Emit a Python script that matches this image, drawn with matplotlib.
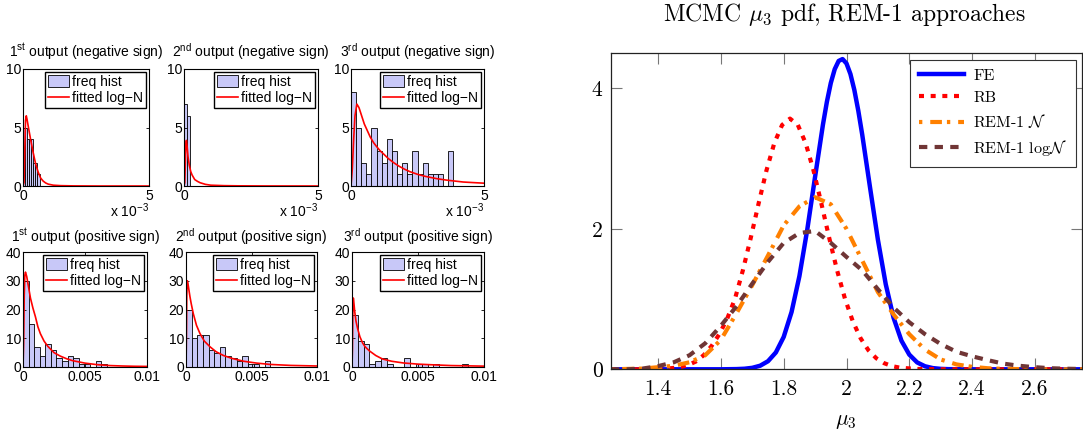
import numpy as np
import matplotlib.pyplot as plt
from matplotlib.font_manager import FontProperties

plt.rcParams['font.family'] = 'Liberation Sans'
plt.rcParams['mathtext.fontset'] = 'custom'
plt.rcParams['mathtext.rm'] = 'Liberation Sans'
plt.rcParams['mathtext.it'] = 'Liberation Sans:italic'
plt.rcParams['mathtext.bf'] = 'Liberation Sans:bold'

W, H = 1083, 434

# ---------------- histogram data (x in units of 1e-3) ----------------
neg1_width = 0.082
neg1_counts = [5, 5, 4, 4, 4, 2, 2, 1]
neg1_fit_x = [0, 0.04, 0.07, 0.10, 0.13, 0.16, 0.20, 0.25, 0.30, 0.40, 0.50, 0.60,
              0.70, 0.80, 0.90, 1.0, 1.2, 1.5, 2.0, 3.0, 5.0]
neg1_fit_y = [0, 0.3, 3.0, 5.6, 6.0, 5.7, 5.2, 4.6, 4.0, 2.9, 1.9, 1.2,
              0.68, 0.42, 0.26, 0.16, 0.07, 0.03, 0.01, 0.0, 0.0]

neg2_width = 0.11
neg2_counts = [7, 6]
neg2_fit_x = [0, 0.03, 0.05, 0.07, 0.09, 0.12, 0.15, 0.20, 0.25, 0.30, 0.40, 0.50,
              0.60, 0.80, 1.0, 1.5, 2.0, 3.0, 5.0]
neg2_fit_y = [0, 0.3, 2.0, 3.6, 3.9, 3.3, 2.5, 1.75, 1.25, 0.95, 0.55, 0.4,
              0.28, 0.14, 0.07, 0.03, 0.015, 0.005, 0.0]

neg3_width = 0.1925
neg3_counts = [8, 5, 2, 1, 5, 3, 2, 4, 3, 1, 2, 1, 3, 1, 2, 1, 1, 1, 0, 3]
neg3_fit_x = [0, 0.05, 0.10, 0.15, 0.22, 0.30, 0.40, 0.50, 0.60, 0.72, 0.85, 0.97,
              1.1, 1.22, 1.4, 1.6, 1.8, 2.0, 2.22, 2.5, 2.8, 3.22, 3.6, 4.22, 4.6, 5.0]
neg3_fit_y = [0, 1.5, 4.0, 6.0, 7.0, 6.7, 6.0, 5.3, 4.8, 4.2, 3.7, 3.35,
              3.0, 2.75, 2.35, 2.0, 1.7, 1.45, 1.22, 1.0, 0.82, 0.63, 0.5, 0.34, 0.29, 0.24]

pos1_width = 0.45
pos1_counts = [30, 15, 7, 4, 8, 6, 3, 2, 4, 3, 1, 1, 0, 2, 1]
pos1_fit_x = [0, 0.05, 0.10, 0.15, 0.20, 0.30, 0.40, 0.50, 0.60, 0.80, 1.0, 1.2, 1.4,
              1.7, 2.0, 2.5, 3.0, 3.5, 4.0, 5.0, 6.0, 7.0, 8.0, 9.0, 10.0]
pos1_fit_y = [0, 8, 25, 32, 33, 31.5, 29, 26.5, 24, 20.5, 17.5, 14, 11.6,
              9, 7.2, 5, 3.8, 2.9, 2.2, 1.35, 0.8, 0.5, 0.35, 0.25, 0.2]

pos2_width = 0.43
pos2_counts = [20, 10, 11, 11, 6, 5, 7, 4, 3, 2, 4, 1, 1, 0, 2]
pos2_fit_x = [0, 0.03, 0.06, 0.10, 0.15, 0.20, 0.30, 0.40, 0.56, 0.80, 1.07, 1.4,
              1.84, 2.3, 2.86, 3.5, 4.4, 5.4, 6.4, 8.0, 10.0]
pos2_fit_y = [0, 10, 25, 30, 29, 27.5, 24.5, 22, 18.5, 14.5, 11.6, 9,
              7, 5.3, 4, 3, 2, 1.35, 0.9, 0.55, 0.35]

pos3_width = 0.44
pos3_counts = [18, 9, 8, 1, 2, 3, 1, 0, 0, 3, 0, 1, 1, 0, 1, 0, 0, 0, 0, 1]
pos3_fit_x = [0, 0.03, 0.06, 0.10, 0.15, 0.20, 0.30, 0.43, 0.6, 0.81, 1.0, 1.32,
              1.8, 2.3, 3.0, 3.9, 5.0, 5.9, 7.5, 10.0]
pos3_fit_y = [0, 6, 18, 24, 22, 19.5, 16, 13.3, 10.5, 8.3, 7, 5.6,
              4, 2.8, 2, 1.4, 1.0, 0.8, 0.5, 0.3]

# ---------------- MCMC mu_3 densities ----------------
fe_x = [1.25, 1.60, 1.65, 1.675, 1.70, 1.725, 1.75, 1.775, 1.80, 1.825, 1.85, 1.875,
        1.90, 1.925, 1.9375, 1.95, 1.9625, 1.975, 1.9875, 2.00, 2.0125, 2.025, 2.0375,
        2.05, 2.075, 2.10, 2.125, 2.15, 2.175, 2.20, 2.225, 2.25, 2.275, 2.30, 2.325,
        2.40, 2.75]
fe_y = [0, 0, 0.003, 0.008, 0.021, 0.051, 0.115, 0.240, 0.461, 0.815, 1.326, 1.988,
        2.743, 3.485, 3.808, 4.077, 4.274, 4.391, 4.418, 4.355, 4.205, 3.977, 3.684,
        3.344, 2.588, 1.845, 1.211, 0.732, 0.407, 0.209, 0.098, 0.043, 0.017, 0.006, 0.002,
        0, 0]

rb_x = [1.25, 1.40, 1.42, 1.47, 1.495, 1.52, 1.545, 1.57, 1.595, 1.62, 1.645, 1.67,
        1.695, 1.72, 1.745, 1.77, 1.795, 1.82, 1.845, 1.87, 1.895, 1.92, 1.945, 1.97,
        1.995, 2.02, 2.045, 2.07, 2.095, 2.12, 2.145, 2.17, 2.22, 2.30, 2.75]
rb_y = [0, 0, 0.005, 0.03, 0.06, 0.11, 0.2, 0.33, 0.5, 0.72, 1.007, 1.41,
        1.87, 2.36, 2.83, 3.22, 3.48, 3.57, 3.48, 3.22, 2.83, 2.36, 1.87, 1.41,
        1.007, 0.684, 0.441, 0.27, 0.157, 0.087, 0.045, 0.023, 0.005, 0, 0]

remn_x = [1.25, 1.35, 1.40, 1.45, 1.50, 1.55, 1.60, 1.65, 1.70, 1.75, 1.80, 1.85,
          1.90, 1.95, 2.00, 2.05, 2.10, 2.15, 2.20, 2.25, 2.30, 2.35, 2.40, 2.45,
          2.50, 2.60, 2.75]
remn_y = [0, 0.01, 0.03, 0.05, 0.1, 0.2, 0.42, 0.8, 1.2, 1.62, 2.05, 2.32,
          2.45, 2.35, 2.0, 1.55, 1.1, 0.78, 0.5, 0.28, 0.14, 0.07, 0.035, 0.015,
          0.006, 0, 0]

remlog_x = [1.25, 1.30, 1.35, 1.40, 1.45, 1.50, 1.55, 1.60, 1.65, 1.70, 1.75, 1.80,
            1.85, 1.90, 1.95, 2.00, 2.05, 2.10, 2.15, 2.20, 2.25, 2.30, 2.35, 2.40,
            2.45, 2.50, 2.55, 2.60, 2.65, 2.70, 2.75]
remlog_y = [0, 0.0, 0.01, 0.045, 0.1, 0.2, 0.37, 0.62, 0.9, 1.22, 1.53, 1.8,
            1.94, 1.97, 1.8, 1.6, 1.41, 1.14, 0.88, 0.67, 0.5, 0.36, 0.25, 0.185,
            0.13, 0.08, 0.05, 0.03, 0.015, 0.008, 0.004]

fig = plt.figure(figsize=(W / 100, H / 100), dpi=100)


def add_ax(l, t, r, b):
    return fig.add_axes([l / W, 1 - b / H, (r - l) / W, (b - t) / H])


def small_panel(box, width, counts, fit_x, fit_y, title, scale, xlim, ylim,
                xticks, xlabels, yticks, title_pad):
    ax = add_ax(*box)
    edges = np.arange(len(counts)) * width * scale
    bars = ax.bar(edges, counts, width=width * scale, align='edge', color='#c8c8f8',
                  edgecolor='black', linewidth=0.6)
    line, = ax.plot(np.array(fit_x) * scale, fit_y, color='red', lw=1.2)
    ax.set_xlim(*xlim)
    ax.set_ylim(*ylim)
    ax.set_xticks(xticks, labels=xlabels)
    ax.set_yticks(yticks)
    ax.tick_params(direction='in', length=2.5, width=0.6, labelsize=10,
                   top=True, right=True, pad=2)
    ax.tick_params(axis='y', pad=1.5)
    for s in ax.spines.values():
        s.set_linewidth(0.8)
    ax.set_title(title, fontsize=10, pad=title_pad)
    leg = ax.legend([bars, line], ['freq hist', 'fitted log\u2212N'],
                    loc='upper right', fontsize=10, frameon=True, fancybox=False,
                    edgecolor='black', framealpha=1, borderpad=0.22,
                    borderaxespad=0.2, handlelength=1.55, handleheight=0.85,
                    handletextpad=0.2, labelspacing=0.15)
    leg.get_frame().set_linewidth(1.0)
    return ax


top = (69, 186)
bot = (252, 367)
neg_titles = ['1$^{\\rm st}$ output (negative sign)',
              '2$^{\\rm nd}$ output (negative sign)',
              '3$^{\\rm rd}$ output (negative sign)']
pos_titles = ['1$^{\\rm st}$ output (positive sign)',
              '2$^{\\rm nd}$ output (positive sign)',
              '3$^{\\rm rd}$ output (positive sign)']
top_lr = [(23, 149), (184, 318), (351, 484)]
bot_lr = [(23, 147), (186, 317), (352, 484)]

neg_data = [(neg1_width, neg1_counts, neg1_fit_x, neg1_fit_y),
            (neg2_width, neg2_counts, neg2_fit_x, neg2_fit_y),
            (neg3_width, neg3_counts, neg3_fit_x, neg3_fit_y)]
pos_data = [(pos1_width, pos1_counts, pos1_fit_x, pos1_fit_y),
            (pos2_width, pos2_counts, pos2_fit_x, pos2_fit_y),
            (pos3_width, pos3_counts, pos3_fit_x, pos3_fit_y)]

for (l, r), d, t in zip(top_lr, neg_data, neg_titles):
    small_panel((l, top[0], r, top[1]), *d, t, 1.0, (0, 5), (0, 10),
                [0, 5], ['0', '5'], [0, 5, 10], 8.8)
    fig.text(r / W, 1 - 217 / H, 'x 10$^{\\mathregular{-3}}$', fontsize=10,
             ha='right', va='baseline')

for (l, r), d, t in zip(bot_lr, pos_data, pos_titles):
    small_panel((l, bot[0], r, bot[1]), *d, t, 1e-3, (0, 0.01), (0, 40),
                [0, 0.005, 0.01], ['0', '0.005', '0.01'], [0, 10, 20, 30, 40], 7.2)

# ---------------- right panel ----------------
cm = FontProperties(family='cmr10', size=15.5, math_fontfamily='cm')
cm_title = FontProperties(family='cmr10', size=17, math_fontfamily='cm')
cm_leg = FontProperties(family='cmr10', size=11.5, math_fontfamily='cm')

ax = add_ax(611, 53.3, 1082, 369.3)
ax.plot(fe_x, fe_y, color='#0000ff', lw=3.2, label='FE')
ax.plot(rb_x, rb_y, color='#ff0000', lw=3.0, dashes=(1.2, 1.6), label='RB')
ax.plot(remn_x, remn_y, color='#ff8000', lw=3.0, dashes=(0.8, 1.9, 2.8, 1.2),
        label='REM-1 $\\mathcal{N}$')
ax.plot(remlog_x, remlog_y, color='#703535', lw=3.0, dashes=(2.0, 1.75),
        label='REM-1 log$\\mathcal{N}$')
ax.set_xlim(1.25, 2.75)
ax.set_ylim(0, 4.5)
ax.set_xticks([1.4, 1.6, 1.8, 2.0, 2.2, 2.4, 2.6],
              labels=['1.4', '1.6', '1.8', '2', '2.2', '2.4', '2.6'])
ax.set_yticks([0, 2, 4], labels=['0', '2', '4'])
for lab in ax.get_xticklabels() + ax.get_yticklabels():
    lab.set_fontproperties(cm)
ax.tick_params(direction='in', length=8, width=0.8, color='#777777',
               top=True, right=True)
ax.tick_params(axis='x', pad=7)
ax.tick_params(axis='y', pad=6)
for s in ax.spines.values():
    s.set_linewidth(0.9)
    s.set_color('#222222')
leg = ax.legend(loc='upper right', bbox_to_anchor=(0.987, 0.979), prop=cm_leg,
                frameon=True, fancybox=False, edgecolor='#333333', framealpha=1,
                handlelength=2.8, labelspacing=0.48, borderpad=0.55,
                handletextpad=0.6, borderaxespad=0)
leg.get_frame().set_linewidth(0.8)

fig.text(844 / W, 1 - 14 / H, 'MCMC $\\mu_3$ pdf, REM-1 approaches',
         fontproperties=cm_title, ha='center', va='center')
fig.text(846 / W, 1 - 421 / H, '$\\mu_3$', fontproperties=cm,
         ha='center', va='center')

fig.savefig('out.png', dpi=100)
